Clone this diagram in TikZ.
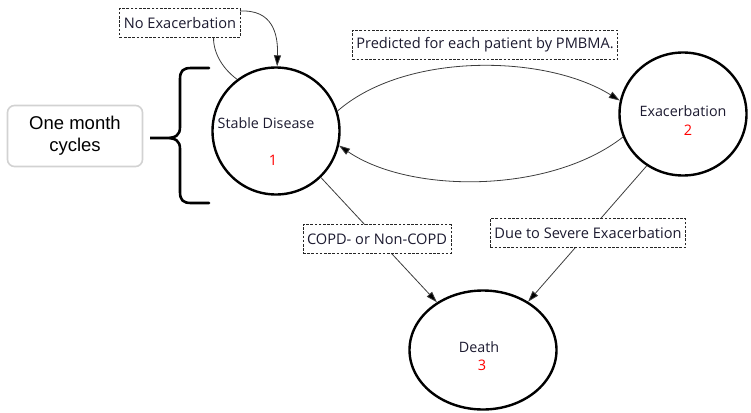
\documentclass[tikz,border=0pt]{standalone}
\usepackage{fontspec}
\setmainfont{Open Sans}
\newfontfamily\arialfont{Liberation Sans}
\usetikzlibrary{shapes.geometric,arrows.meta}
\definecolor{ink}{RGB}{28,26,48}
\definecolor{edge}{RGB}{60,60,60}
\definecolor{soft}{RGB}{210,210,210}
\begin{document}
\begin{tikzpicture}[x=1pt,y=-1pt,
  state/.style={ellipse, draw=black, line width=2.4pt, inner sep=0pt},
  statelabel/.style={text=ink, font=\fontsize{14.3}{17}\selectfont, inner sep=0pt},
  statenum/.style={text=red, font=\fontsize{14.5}{17}\selectfont, inner sep=0pt},
  tag/.style={draw=black!85, dash pattern=on 2.6pt off 1.6pt, line width=0.8pt,
    fill=white, text=ink, inner xsep=4pt, inner ysep=2pt, minimum height=29pt,
    font=\fontsize{14.6}{17}\selectfont},
  link/.style={draw=edge, line width=0.8pt},
  arrow/.style={link, -{Triangle[length=11pt,width=7pt,fill=black]}},
  note/.style={draw=soft, line width=1.6pt, rounded corners=7pt, fill=white,
    minimum width=135pt, minimum height=61pt, align=center,
    font=\arialfont\fontsize{18.5}{22}\selectfont},
  brace/.style={draw=black, line width=2.6pt, line cap=round}
]
\useasboundingbox (0,0) rectangle (751,412);

% states
\node[state, minimum width=127pt, minimum height=127pt] (sd) at (276,131) {};
\node[state, minimum width=127pt, minimum height=123pt] (ex) at (683,114) {};
\node[state, minimum width=147pt, minimum height=119pt] (de) at (483,350) {};

\node[statelabel] (sdt) at (266,123) {Stable Disease};
\node[statenum]  (sdn) at (273,160) {1};
\node[statelabel] (ext) at (683,111) {Exacerbation};
\node[statenum]  (exn) at (688,130) {2};
\node[statelabel] (det) at (479,347) {Death};
\node[statenum]  (den) at (482,365) {3};

% transitions
\path[arrow] (sd.127) .. controls (204,55) and (205,10) .. (245,11)
  .. controls (276,12) and (278,40) .. (sd.89);
\path[arrow] (sd.18) .. controls (405,52) and (545,54) .. (ex.168);
\path[arrow] (ex.201) .. controls (550,194) and (410,194) .. (sd.-13);
\path[arrow] (sd.-46) -- (de.134);
\path[arrow] (ex.235) -- (de.47);

% transition labels
\node[tag] (t1) at (180,23) {No Exacerbation};
\node[tag] (t2) at (485,45) {Predicted for each patient by PMBMA.};
\node[tag] (t3) at (377,239) {COPD- or Non-COPD};
\node[tag] (t4) at (588,233) {Due to Severe Exacerbation};

% cycle length note with brace
\node[note] (cy) at (75,136) {One month\\cycles};
\coordinate (tip) at (150,138);
\draw[brace] (209,68) -- (191,68) .. controls (183,68) and (180,71) .. (180,79)
  -- (180,127) .. controls (180,135) and (176,138) .. (166,138) -- (tip)
  -- (166,138) .. controls (176,138) and (180,141) .. (180,149)
  -- (180,192) .. controls (180,200) and (183,203) .. (191,203) -- (209,203);
\end{tikzpicture}
\end{document}
